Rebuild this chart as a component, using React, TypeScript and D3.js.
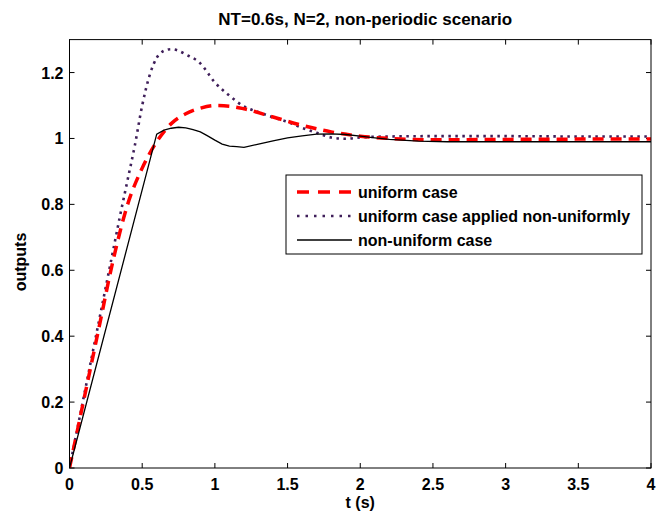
import React, { useEffect, useRef } from 'react';
import * as d3 from 'd3';

// data
const uniformT = [0, 0.1, 0.2, 0.3, 0.4, 0.5, 0.6, 0.7, 0.8, 0.9, 1.0, 1.1, 1.2, 1.4, 1.6, 1.8, 2.0, 2.2, 2.5, 3, 3.5, 4];
const uniformV = [0, 0.21, 0.42, 0.63, 0.8, 0.91, 0.99, 1.045, 1.075, 1.092, 1.1, 1.098, 1.09, 1.065, 1.04, 1.02, 1.007, 1.0, 0.996, 0.997, 0.998, 0.998];

const appliedT = [0, 0.1, 0.2, 0.3, 0.35, 0.4, 0.45, 0.5, 0.55, 0.6, 0.65, 0.7, 0.75, 0.8, 0.9, 1.0, 1.1, 1.2, 1.3, 1.4, 1.5, 1.6, 1.7, 1.8, 1.9, 2.0, 2.2, 2.5, 3, 3.5, 4];
const appliedV = [0, 0.22, 0.44, 0.66, 0.77, 0.875, 0.98, 1.1, 1.19, 1.245, 1.266, 1.271, 1.266, 1.255, 1.228, 1.17, 1.13, 1.097, 1.08, 1.064, 1.05, 1.032, 1.017, 1.003, 0.999, 1.003, 1.006, 1.007, 1.007, 1.006, 1.006];

const nonUniformT = [0, 0.6, 0.65, 0.7, 0.75, 0.8, 0.85, 0.9, 0.95, 1.0, 1.05, 1.1, 1.15, 1.2, 1.3, 1.4, 1.5, 1.6, 1.7, 1.8, 1.9, 2.0, 2.1, 2.2, 2.4, 2.6, 3, 3.5, 4];
const nonUniformV = [0, 1.013, 1.025, 1.031, 1.034, 1.032, 1.027, 1.02, 1.008, 0.995, 0.983, 0.977, 0.975, 0.973, 0.983, 0.993, 1.002, 1.008, 1.013, 1.014, 1.012, 1.007, 1.002, 0.997, 0.992, 0.99, 0.99, 0.99, 0.99];

const xTicks = [0, 0.5, 1, 1.5, 2, 2.5, 3, 3.5, 4];
const yTicks = [0, 0.2, 0.4, 0.6, 0.8, 1, 1.2];

const legendLabels = ['uniform case', 'uniform case applied non-uniformly', 'non-uniform case'];

const App = () => {
  const ref = useRef<SVGSVGElement>(null);

  useEffect(() => {
    const svg = d3.select(ref.current);
    svg.selectAll('*').remove();

    const left = 69.5, right = 651, top = 39.6, bottom = 468;
    const x = d3.scaleLinear().domain([0, 4]).range([left, right]);
    const y = d3.scaleLinear().domain([0, 1.3]).range([bottom, top]);
    const font = 'Liberation Sans, Arial, sans-serif';
    const tickSize = 16;

    svg.append('rect')
      .attr('x', left).attr('y', top)
      .attr('width', right - left).attr('height', bottom - top)
      .attr('fill', '#fff');

    // ticks pointing inward on all four sides
    const tl = 5;
    const g = svg.append('g').attr('stroke', '#000').attr('stroke-width', 1);
    xTicks.forEach(t => {
      g.append('line').attr('x1', x(t)).attr('x2', x(t)).attr('y1', bottom).attr('y2', bottom - tl);
      g.append('line').attr('x1', x(t)).attr('x2', x(t)).attr('y1', top).attr('y2', top + tl);
    });
    yTicks.forEach(v => {
      g.append('line').attr('x1', left).attr('x2', left + tl).attr('y1', y(v)).attr('y2', y(v));
      g.append('line').attr('x1', right).attr('x2', right - tl).attr('y1', y(v)).attr('y2', y(v));
    });

    const line = d3.line<[number, number]>().x(d => x(d[0])).y(d => y(d[1]));
    const pts = (ts: number[], vs: number[]) => ts.map((t, i) => [t, vs[i]] as [number, number]);

    const clipId = 'plotclip';
    svg.append('clipPath').attr('id', clipId).append('rect')
      .attr('x', left).attr('y', top).attr('width', right - left).attr('height', bottom - top);
    const plot = svg.append('g').attr('clip-path', `url(#${clipId})`);

    plot.append('path')
      .attr('d', line.curve(d3.curveMonotoneX)(pts(appliedT, appliedV)))
      .attr('fill', 'none').attr('stroke', '#3f1f5a').attr('stroke-width', 2.6)
      .attr('stroke-dasharray', '2.5,4.5');
    plot.append('path')
      .attr('d', line.curve(d3.curveMonotoneX)(pts(uniformT, uniformV)))
      .attr('fill', 'none').attr('stroke', '#ff0000').attr('stroke-width', 3.5)
      .attr('stroke-dasharray', '11,7');
    plot.append('path')
      .attr('d', line.curve(d3.curveLinear)(pts(nonUniformT, nonUniformV)))
      .attr('fill', 'none').attr('stroke', '#000').attr('stroke-width', 1.3);

    svg.append('rect')
      .attr('x', left).attr('y', top)
      .attr('width', right - left).attr('height', bottom - top)
      .attr('fill', 'none').attr('stroke', '#000').attr('stroke-width', 1);

    // tick labels
    svg.append('g').selectAll('text').data(xTicks).enter().append('text')
      .attr('x', d => x(d)).attr('y', bottom + 22)
      .attr('text-anchor', 'middle')
      .attr('font-family', font).attr('font-weight', 'bold').attr('font-size', tickSize)
      .text(d => String(d));
    svg.append('g').selectAll('text').data(yTicks).enter().append('text')
      .attr('x', left - 6).attr('y', d => y(d) + 6)
      .attr('text-anchor', 'end')
      .attr('font-family', font).attr('font-weight', 'bold').attr('font-size', tickSize)
      .text(d => String(d));

    svg.append('text')
      .attr('x', (left + right) / 2 + 5).attr('y', 25)
      .attr('text-anchor', 'middle')
      .attr('font-family', font).attr('font-weight', 'bold').attr('font-size', 17)
      .text('NT=0.6s, N=2, non-periodic scenario');
    svg.append('text')
      .attr('x', (left + right) / 2).attr('y', 508)
      .attr('text-anchor', 'middle')
      .attr('font-family', font).attr('font-weight', 'bold').attr('font-size', 16)
      .text('t (s)');
    svg.append('text')
      .attr('transform', `translate(26,262) rotate(-90)`)
      .attr('text-anchor', 'middle')
      .attr('font-family', font).attr('font-weight', 'bold').attr('font-size', 16)
      .text('outputs');

    // legend
    const lg = svg.append('g');
    lg.append('rect')
      .attr('x', 286).attr('y', 175).attr('width', 356).attr('height', 79)
      .attr('fill', '#fff').attr('stroke', '#000').attr('stroke-width', 1);
    const styles = [
      { stroke: '#ff0000', w: 3.5, dash: '12,9' },
      { stroke: '#3f1f5a', w: 2.6, dash: '2.5,6' },
      { stroke: '#000', w: 1.3, dash: null },
    ];
    legendLabels.forEach((label, i) => {
      const ly = 192 + i * 24;
      const s = styles[i];
      const l = lg.append('line')
        .attr('x1', 297).attr('x2', 352).attr('y1', ly).attr('y2', ly)
        .attr('stroke', s.stroke).attr('stroke-width', s.w);
      if (s.dash) l.attr('stroke-dasharray', s.dash);
      lg.append('text')
        .attr('x', 358).attr('y', ly + 6)
        .attr('font-family', font).attr('font-weight', 'bold').attr('font-size', 16)
        .text(label);
    });
  }, []);

  return (
    <svg ref={ref} width={667} height={514}
      style={{ position: 'absolute', left: 0, top: 0, background: '#fff' }} />
  );
};

export default App;
